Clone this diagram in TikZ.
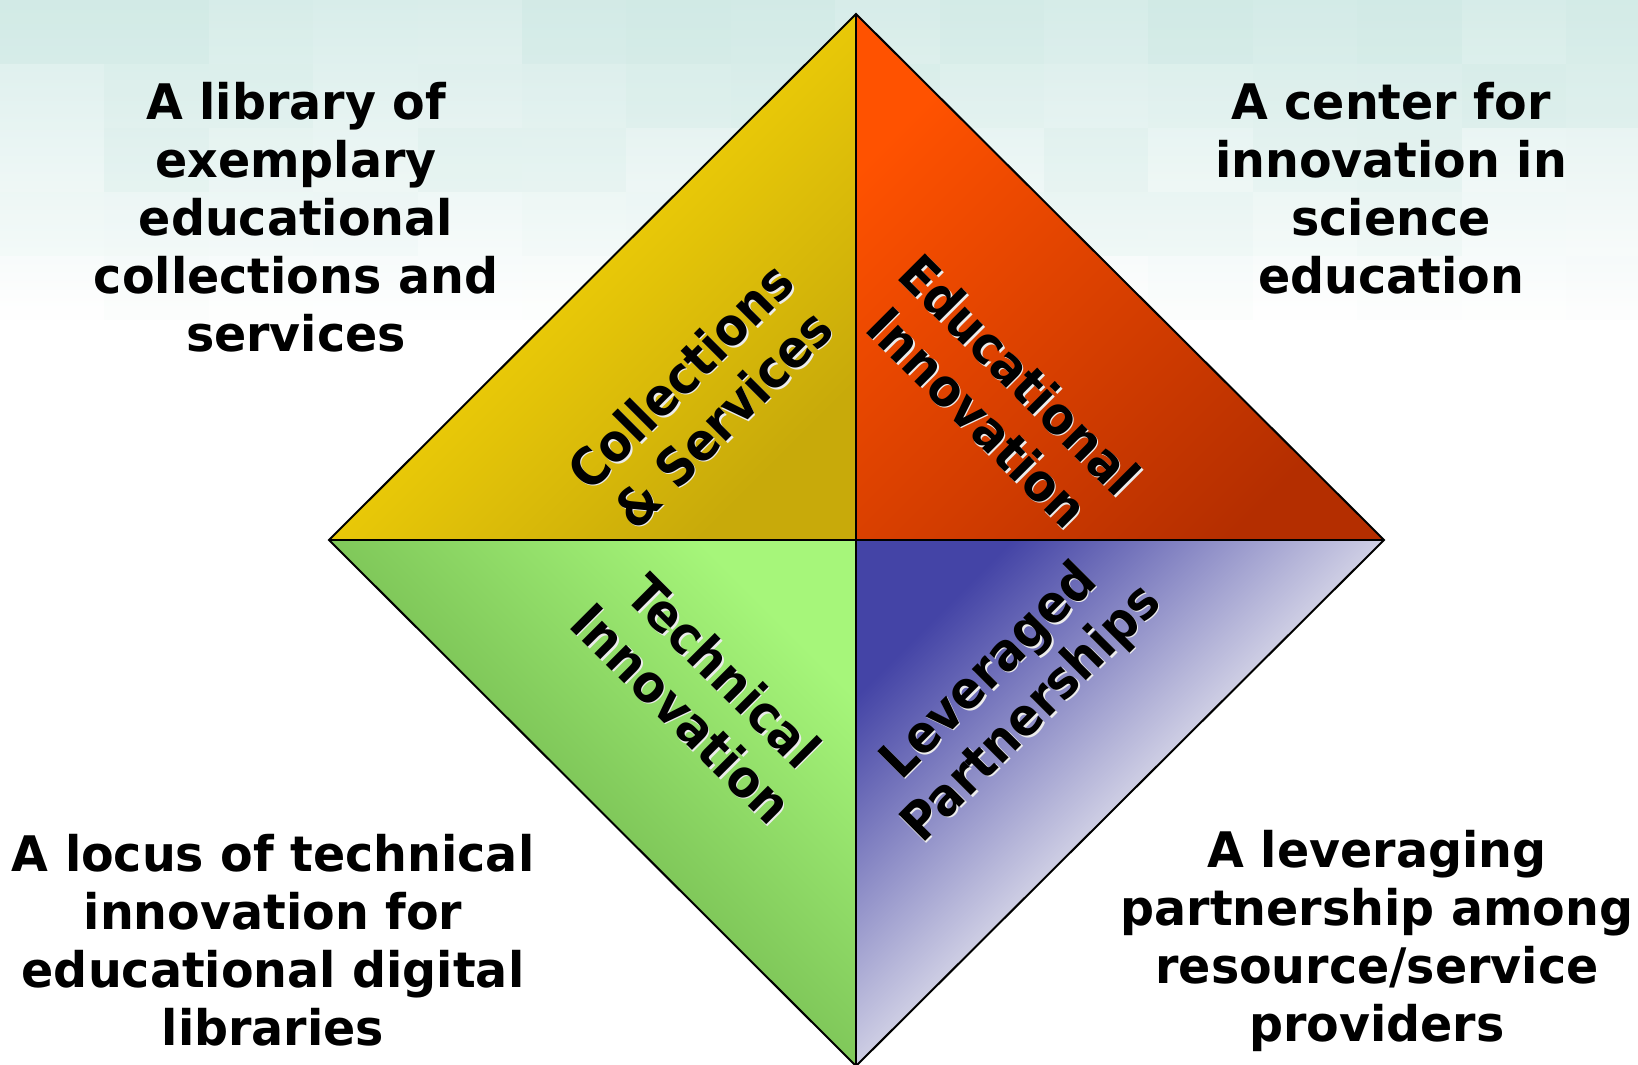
\documentclass[tikz,border=0pt]{standalone}
\usepackage{fontspec}
\newfontfamily\vf{DejaVu Sans}[FakeStretch=0.91]
\newfontfamily\vfd{DejaVu Sans}[FakeStretch=0.97]
\definecolor{bgteal}{RGB}{218,238,235}
\definecolor{tilec}{RGB}{198,229,223}
\definecolor{ylA}{RGB}{232,200,8}
\definecolor{ylB}{RGB}{200,170,10}
\definecolor{orA}{RGB}{255,82,0}
\definecolor{orB}{RGB}{180,46,0}
\definecolor{grA}{RGB}{166,246,122}
\definecolor{grB}{RGB}{128,200,90}
\definecolor{blA}{RGB}{68,68,166}
\definecolor{blB}{RGB}{206,206,228}
\definecolor{shadowc}{RGB}{236,236,236}
% text with a light drop shadow: #1 = right shift, #2 = raise, #3 = text
\newcommand\shd[3]{\leavevmode\rlap{\kern#1\raisebox{#2}{\color{shadowc}#3}}#3}
\newcommand\shup[1]{\shd{0pt}{-2.3pt}{#1}}
\newcommand\shdn[1]{\shd{2.3pt}{0pt}{#1}}
\begin{document}
\begin{tikzpicture}[x=1pt,y=-1pt,
  desc/.style={font=\vfd\bfseries\fontsize{49}{58}\selectfont, align=center, inner sep=0pt},
  lblstyle/.style={font=\vf\bfseries\fontsize{52}{60}\selectfont, align=center, inner sep=0pt},
  edge/.style={draw=black, line width=2pt, line join=miter}]
\useasboundingbox (0,0) rectangle (1638,1065);
% background
\fill[white] (0,0) rectangle (1638,1065);
\shade[top color=bgteal, bottom color=white] (0,0) rectangle (1638,310);
\pgfmathsetseed{7}
\foreach \i in {0,...,15}{
  \foreach \j in {0,...,4}{
    \pgfmathsetmacro\op{rnd*0.45*(1-\j/5)}
    \fill[tilec, opacity=\op] (\i*104.4,\j*64) rectangle ++(104.4,64);
  }
}
% diamond corners
\coordinate (T) at (856,14);
\coordinate (L) at (329,540);
\coordinate (R) at (1384,540);
\coordinate (B) at (856,1066);
\coordinate (C) at (856,540);
% quadrants
\shade[top color=ylA, bottom color=ylB, middle color=ylA, shading angle=45] (L) -- (T) -- (C) -- cycle;
\shade[top color=orA, bottom color=orB, shading angle=45] (T) -- (R) -- (C) -- cycle;
\shade[top color=grA, bottom color=grB, middle color=grB, shading angle=-45] (L) -- (C) -- (B) -- cycle;
\shade[top color=blA, bottom color=blB, middle color=blB, shading angle=45] (C) -- (R) -- (B) -- cycle;
% outline and cross
\draw[edge] (T) -- (R) -- (B) -- (L) -- cycle;
\draw[edge] (T) -- (B);
\draw[edge] (L) -- (R);
% quadrant labels
\node[lblstyle, rotate=45] (cs) at (702,398) {\shup{Collections}\\\shup{\& Services}};
\node[lblstyle, rotate=-45] (ei) at (999,396) {\shdn{Educational}\\\shdn{Innovation}};
\node[lblstyle, rotate=-45] (ti) at (703,692) {\shdn{Technical}\\\shdn{Innovation}};
\node[lblstyle, rotate=45] (lp) at (1012,694) {\shup{Leveraged}\\\shup{Partnerships}};
% descriptions
\node[desc] (tl) at (296,217.5) {A library of\\exemplary\\educational\\collections and\\services};
\node[desc] (tr) at (1391,188.5) {A center for\\innovation in\\science\\education};
\node[desc] (bl) at (273,940.5) {A locus of technical\\innovation for\\educational digital\\libraries};
\node[desc] (br) at (1377,941) {A leveraging\\partnership among\\resource/service\\providers};
\end{tikzpicture}
\end{document}
